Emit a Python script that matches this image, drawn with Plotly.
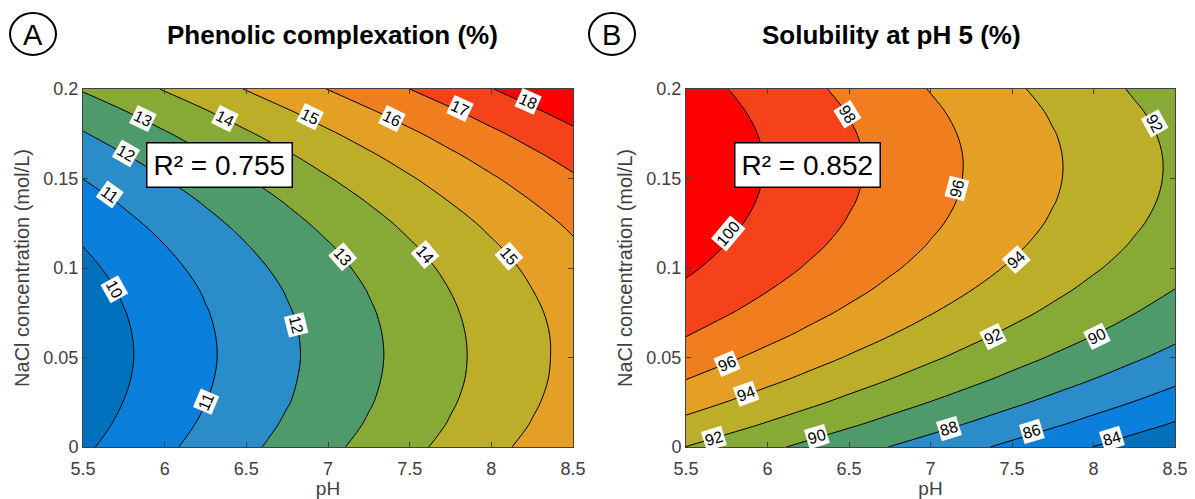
import plotly.graph_objects as go

# ---------------- data ----------------
ph = [5.5, 5.75, 6.0, 6.25, 6.5, 6.75, 7.0, 7.25, 7.5, 7.75, 8.0, 8.25, 8.5]
nacl = [0.0, 0.0125, 0.025, 0.0375, 0.05, 0.0625, 0.075, 0.0875, 0.1,
        0.1125, 0.125, 0.1375, 0.15, 0.1625, 0.175, 0.1875, 0.2]

# Phenolic complexation (%) ; rows = NaCl, columns = pH
phenolic = [
    [9.85, 10.34, 10.83, 11.32, 11.81, 12.30, 12.79, 13.28, 13.77, 14.26, 14.75, 15.24, 15.72],
    [9.66, 10.15, 10.64, 11.13, 11.62, 12.11, 12.60, 13.08, 13.57, 14.06, 14.55, 15.04, 15.53],
    [9.52, 10.01, 10.50, 10.99, 11.48, 11.96, 12.45, 12.94, 13.43, 13.92, 14.41, 14.90, 15.39],
    [9.43, 9.92, 10.41, 10.90, 11.39, 11.88, 12.37, 12.86, 13.34, 13.83, 14.32, 14.81, 15.30],
    [9.40, 9.88, 10.37, 10.86, 11.35, 11.84, 12.33, 12.82, 13.31, 13.80, 14.29, 14.78, 15.27],
    [9.41, 9.90, 10.39, 10.88, 11.37, 11.86, 12.35, 12.84, 13.33, 13.82, 14.31, 14.79, 15.28],
    [9.48, 9.97, 10.46, 10.95, 11.44, 11.93, 12.42, 12.91, 13.40, 13.89, 14.38, 14.86, 15.35],
    [9.61, 10.09, 10.58, 11.07, 11.56, 12.05, 12.54, 13.03, 13.52, 14.01, 14.50, 14.99, 15.48],
    [9.78, 10.27, 10.76, 11.25, 11.74, 12.23, 12.72, 13.21, 13.69, 14.18, 14.67, 15.16, 15.65],
    [10.01, 10.50, 10.99, 11.48, 11.97, 12.45, 12.94, 13.43, 13.92, 14.41, 14.90, 15.39, 15.88],
    [10.29, 10.78, 11.27, 11.76, 12.25, 12.74, 13.23, 13.71, 14.20, 14.69, 15.18, 15.67, 16.16],
    [10.62, 11.11, 11.60, 12.09, 12.58, 13.07, 13.56, 14.05, 14.54, 15.03, 15.52, 16.01, 16.49],
    [11.01, 11.50, 11.99, 12.48, 12.97, 13.46, 13.95, 14.43, 14.92, 15.41, 15.90, 16.39, 16.88],
    [11.45, 11.94, 12.43, 12.92, 13.41, 13.89, 14.38, 14.87, 15.36, 15.85, 16.34, 16.83, 17.32],
    [11.94, 12.43, 12.92, 13.41, 13.90, 14.39, 14.88, 15.36, 15.85, 16.34, 16.83, 17.32, 17.81],
    [12.48, 12.97, 13.46, 13.95, 14.44, 14.93, 15.42, 15.91, 16.40, 16.89, 17.38, 17.87, 18.36],
    [13.08, 13.57, 14.06, 14.55, 15.04, 15.53, 16.02, 16.51, 17.00, 17.48, 17.97, 18.46, 18.95],
]

# Solubility at pH 5 (%) ; rows = NaCl, columns = pH
solubility = [
    [91.97, 91.17, 90.37, 89.57, 88.77, 87.97, 87.17, 86.37, 85.57, 84.77, 83.97, 83.17, 82.37],
    [93.43, 92.63, 91.83, 91.03, 90.23, 89.43, 88.63, 87.82, 87.02, 86.22, 85.42, 84.62, 83.82],
    [94.77, 93.97, 93.17, 92.37, 91.56, 90.76, 89.96, 89.16, 88.35, 87.55, 86.75, 85.95, 85.14],
    [95.99, 95.19, 94.39, 93.58, 92.78, 91.97, 91.17, 90.37, 89.56, 88.76, 87.96, 87.15, 86.35],
    [97.09, 96.29, 95.48, 94.68, 93.87, 93.07, 92.26, 91.46, 90.65, 89.85, 89.04, 88.24, 87.43],
    [98.07, 97.26, 96.46, 95.65, 94.84, 94.04, 93.23, 92.42, 91.62, 90.81, 90.01, 89.20, 88.39],
    [98.93, 98.12, 97.31, 96.50, 95.70, 94.89, 94.08, 93.27, 92.47, 91.66, 90.85, 90.04, 89.24],
    [99.66, 98.85, 98.04, 97.24, 96.43, 95.62, 94.81, 94.00, 93.19, 92.38, 91.57, 90.77, 89.96],
    [100.28, 99.47, 98.66, 97.85, 97.04, 96.23, 95.42, 94.61, 93.80, 92.99, 92.18, 91.37, 90.56],
    [100.77, 99.96, 99.15, 98.34, 97.53, 96.72, 95.90, 95.09, 94.28, 93.47, 92.66, 91.85, 91.04],
    [101.14, 100.33, 99.52, 98.71, 97.89, 97.08, 96.27, 95.46, 94.64, 93.83, 93.02, 92.21, 91.39],
    [101.40, 100.58, 99.77, 98.96, 98.14, 97.33, 96.52, 95.70, 94.89, 94.07, 93.26, 92.45, 91.63],
    [101.53, 100.71, 99.90, 99.08, 98.27, 97.45, 96.64, 95.82, 95.01, 94.19, 93.38, 92.56, 91.75],
    [101.54, 100.72, 99.91, 99.09, 98.28, 97.46, 96.64, 95.83, 95.01, 94.19, 93.38, 92.56, 91.75],
    [101.43, 100.61, 99.80, 98.98, 98.16, 97.34, 96.53, 95.71, 94.89, 94.07, 93.26, 92.44, 91.62],
    [101.20, 100.38, 99.56, 98.74, 97.93, 97.11, 96.29, 95.47, 94.65, 93.83, 93.01, 92.19, 91.38],
    [100.85, 100.03, 99.21, 98.39, 97.57, 96.75, 95.93, 95.11, 94.29, 93.47, 92.65, 91.83, 91.01],
]

x_ticks = [5.5, 6, 6.5, 7, 7.5, 8, 8.5]
x_ticktext = ["5.5", "6", "6.5", "7", "7.5", "8", "8.5"]
y_ticks = [0, 0.05, 0.1, 0.15, 0.2]
y_ticktext = ["0", "0.05", "0.1", "0.15", "0.2"]

titles = ["Phenolic complexation (%)", "Solubility at pH 5 (%)"]
r2_texts = ["R\u00b2 = 0.755", "R\u00b2 = 0.852"]
panel_letters = ["A", "B"]

# contour label placements: (pH, NaCl, level text, rotation)
labels_a = [
    (5.867, 0.1836, "13", 26), (6.368, 0.1836, "14", 26), (6.888, 0.1845, "15", 26),
    (7.390, 0.1836, "16", 26), (7.809, 0.1892, "17", 25), (8.227, 0.1929, "18", 24),
    (5.765, 0.164, "12", 30), (5.663, 0.1408, "11", 36), (5.692, 0.0879, "10", 61),
    (6.256, 0.0252, "11", -67), (6.807, 0.068, "12", 76), (7.089, 0.1065, "13", 49),
    (7.594, 0.1075, "14", 49), (8.110, 0.1065, "15", 49),
]
labels_b = [
    (6.490, 0.1856, "98", 58), (8.377, 0.1809, "92", 61), (7.162, 0.1444, "96", -75),
    (5.760, 0.1191, "100", -50), (7.526, 0.1049, "94", -42), (7.385, 0.0618, "92", -26),
    (8.019, 0.0618, "90", -26), (5.754, 0.0468, "96", -23), (5.871, 0.030, "94", -20),
    (5.671, 0.0047, "92", -17), (6.305, 0.0056, "90", -17), (7.115, 0.0103, "88", -17),
    (7.620, 0.0084, "86", -17), (8.113, 0.0047, "84", -17),
]

band_colors = ["#0072BD", "#0A80DC", "#2A8CC8", "#4E9A6B", "#87A935",
               "#BDAE2A", "#E3A024", "#F07E1E", "#F5421A", "#FF0000"]
colorscale = [[i / (len(band_colors) - 1), c] for i, c in enumerate(band_colors)]

# ---------------- layout geometry (pixels of the reference image) ----------------
OFF = 8                      # page body margin of the browser
W, H = 1195 - OFF, 499 - OFF
plot_left = [83, 686]
plot_right = [573, 1175]
plot_top, plot_bottom = 89, 447


def px(x):
    return (x - OFF) / W


def py(y):
    return (H - (y - OFF)) / H


FONT = "Liberation Sans, Arial, sans-serif"
GREY = "#404040"

fig = go.Figure()

contour_specs = [
    (phenolic, 10, 18, 1),
    (solubility, 84, 100, 2),
]

for i, (z, start, end, size) in enumerate(contour_specs):
    xa = "x" if i == 0 else "x2"
    ya = "y" if i == 0 else "y2"
    fig.add_trace(go.Contour(
        x=ph, y=nacl, z=z,
        autocontour=False,
        contours=dict(start=start, end=end, size=size, coloring="fill", showlabels=False),
        colorscale=colorscale,
        showscale=False,
        line=dict(color="black", width=1, smoothing=1.0),
        hoverinfo="skip",
        xaxis=xa, yaxis=ya,
    ))

axis_common = dict(
    showgrid=False, zeroline=False, showline=True, linecolor=GREY, linewidth=1,
    ticks="inside", ticklen=5, tickcolor=GREY, mirror="ticks",
    tickfont=dict(family=FONT, size=18, color=GREY),
    automargin=False,
)

for i in range(2):
    sx = "" if i == 0 else "2"
    fig.layout["xaxis" + sx] = dict(
        axis_common,
        domain=[px(plot_left[i]), px(plot_right[i])],
        range=[5.5, 8.5], tickvals=x_ticks, ticktext=x_ticktext,
        anchor="y" + sx, ticklabelstandoff=5,
        title=dict(text="pH", font=dict(family=FONT, size=19, color=GREY), standoff=2),
    )
    fig.layout["yaxis" + sx] = dict(
        axis_common,
        domain=[py(plot_bottom), py(plot_top)],
        range=[0, 0.2], tickvals=y_ticks, ticktext=y_ticktext,
        anchor="x" + sx,
        title=dict(text="NaCl concentration (mol/L)", font=dict(family=FONT, size=20, color=GREY),
                   standoff=8),
    )

annotations = []
shapes = []
for i, labels in enumerate([labels_a, labels_b]):
    xr = "x" if i == 0 else "x2"
    yr = "y" if i == 0 else "y2"
    for (lx, ly, txt, ang) in labels:
        annotations.append(dict(
            x=lx, y=ly, xref=xr, yref=yr, text=txt, showarrow=False,
            xanchor="center", yanchor="middle",
            textangle=ang, bgcolor="white", borderpad=1,
            font=dict(family=FONT, size=16, color="black"),
        ))
    # R^2 box
    annotations.append(dict(
        x=6.336 if i == 0 else 6.243, y=0.1577, xref=xr, yref=yr, text=r2_texts[i],
        xanchor="center", yanchor="middle",
        showarrow=False, bgcolor="white", bordercolor="black", borderwidth=1.5, borderpad=6,
        font=dict(family=FONT, size=28, color="black"),
    ))

title_cx = [332, 891]
title_cy = 35
circle_cx = [33, 612]
circle_cy = 34
circle_rx, circle_ry = 23, 21
for i in range(2):
    annotations.append(dict(
        x=px(title_cx[i]), y=py(title_cy), xref="paper", yref="paper",
        xanchor="center", yanchor="middle",
        text="<b>" + titles[i] + "</b>", showarrow=False,
        font=dict(family=FONT, size=26, color="black"),
    ))
    annotations.append(dict(
        x=px(circle_cx[i]), y=py(circle_cy + 1), xref="paper", yref="paper",
        xanchor="center", yanchor="middle",
        text=panel_letters[i], showarrow=False,
        font=dict(family=FONT, size=29, color="black"),
    ))
    shapes.append(dict(
        type="circle", xref="paper", yref="paper",
        x0=px(circle_cx[i] - circle_rx), x1=px(circle_cx[i] + circle_rx),
        y0=py(circle_cy + circle_ry), y1=py(circle_cy - circle_ry),
        line=dict(color="black", width=2),
    ))

fig.update_layout(
    width=W, height=H,
    margin=dict(l=0, r=0, t=0, b=0),
    paper_bgcolor="white", plot_bgcolor="white",
    showlegend=False,
    annotations=annotations, shapes=shapes,
    font=dict(family=FONT),
)

fig.write_html("out.html")
